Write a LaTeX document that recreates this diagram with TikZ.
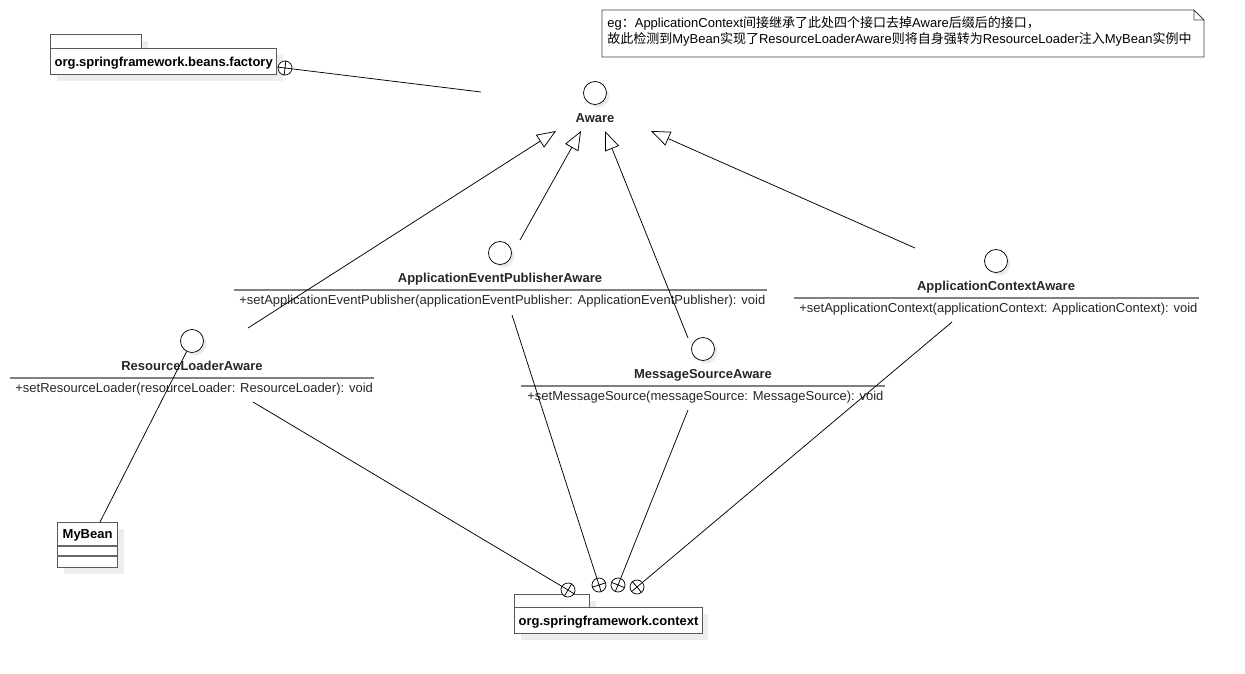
\documentclass[tikz,border=0pt]{standalone}
\usepackage{fontspec}
\setmainfont{Liberation Sans}
\newfontfamily\cjk{Noto Sans CJK SC}
\newcommand\zh[1]{{\cjk #1}}
\usetikzlibrary{positioning,arrows.meta,shadows}

\tikzset{
  iface/.style={circle,draw,fill=white,minimum size=23pt,inner sep=0pt,
    drop shadow={shadow xshift=3pt,shadow yshift=-3pt,fill=black!8,opacity=1}},
  ilabel/.style={font=\fontsize{13}{15}\selectfont\bfseries,text=black!85,inner sep=0pt},
  method/.style={anchor=base west,inner sep=0pt,text=black!85},
  sepline/.style={draw=black!50,line width=1.5pt},
  realize/.style={-{Triangle[open,length=19pt,width=15pt]}},
  pkgbox/.style={draw=black!65,line width=1.2pt,fill=white,anchor=north west,
    drop shadow={shadow xshift=6pt,shadow yshift=-6pt,fill=black!7,opacity=1}},
  pkgname/.style={pkgbox,minimum height=26pt,text depth=0pt,inner xsep=4pt,
    font=\fontsize{13}{15}\selectfont\bfseries},
  contain/.style={circle,draw,fill=white,minimum size=14pt,inner sep=0pt}
}

\begin{document}
\begin{tikzpicture}[x=1pt,y=-1pt,line width=0.75pt,font=\fontsize{13}{15}\selectfont]
  \useasboundingbox (0,0) rectangle (1245,673);

  % note
  \draw[black!75] (602,10) -- (1194,10) -- (1204,20) -- (1204,57) -- (602,57) -- cycle
    (1194,10) -- (1194,20) -- (1204,20);
  \node (note) [anchor=north west,align=left,inner sep=0pt,font=\fontsize{13}{16}\selectfont] at (607,16)
    {eg\zh{：}ApplicationContext\zh{间接继承了此处四个接口去掉}Aware\zh{后缀后的接口，}\\
     \zh{故此检测到}MyBean\zh{实现了}ResourceLoaderAware\zh{则将自身强转为}ResourceLoader\zh{注入}MyBean\zh{实例中}};

  % packages
  \node (bfTab) [pkgbox,minimum width=91pt,minimum height=14pt,inner sep=0pt] at (50,34) {};
  \node (bf) [pkgname] at (50,48) {org.springframework.beans.factory};
  \node (ctxTab) [pkgbox,minimum width=75pt,minimum height=14pt,inner sep=0pt] at (514,594) {};
  \node (ctx) [pkgname] at (514,607) {org.springframework.context};

  % interfaces
  \node (awareC) [iface] at (595,93) {};
  \node (aware) [ilabel,below=8pt of awareC] {Aware};

  \node (aepaC) [iface] at (500,253) {};
  \node (aepa) [ilabel,below=8pt of aepaC] {ApplicationEventPublisherAware};
  \draw[sepline] (234,290) -- (767,290);
  \node (aepaM) [method] at (239,304) {+setApplicationEventPublisher(applicationEventPublisher: ApplicationEventPublisher): void};

  \node (rlaC) [iface] at (192,341) {};
  \node (rla) [ilabel,below=8pt of rlaC] {ResourceLoaderAware};
  \draw[sepline] (10,378) -- (374,378);
  \node (rlaM) [method] at (15,392) {+setResourceLoader(resourceLoader: ResourceLoader): void};

  \node (msaC) [iface] at (703,349) {};
  \node (msa) [ilabel,below=8pt of msaC] {MessageSourceAware};
  \draw[sepline] (521,386) -- (885,386);
  \node (msaM) [method] at (527,400) {+setMessageSource(messageSource: MessageSource): void};

  \node (acaC) [iface] at (996,261) {};
  \node (aca) [ilabel,below=8pt of acaC] {ApplicationContextAware};
  \draw[sepline] (794,298) -- (1199,298);
  \node (acaM) [method] at (799,312) {+setApplicationContext(applicationContext: ApplicationContext): void};

  % class
  \node (bean) [pkgbox,minimum width=60pt,minimum height=45pt,inner sep=0pt] at (57,522) {};
  \node (beanName) [ilabel,text=black,below=7pt of bean.north] {MyBean};
  \draw[black!60,line width=1.2pt] (57,546) -- (117,546) (57,556) -- (117,556);

  % free ends
  \coordinate (rlaUp) at (248,328);  \coordinate (tipR) at (556,131);
  \coordinate (aepaUp) at (520,240); \coordinate (tipE) at (581,131);
  \coordinate (msaUp) at (688,338);  \coordinate (tipM) at (605,131);
  \coordinate (acaUp) at (915,248);  \coordinate (tipC) at (651,131);
  \coordinate (rlaDn) at (253,402);
  \coordinate (aepaDn) at (512,315);
  \coordinate (msaDn) at (688,410);
  \coordinate (acaDn) at (952,322);
  \coordinate (bfEnd) at (481,92);
  \coordinate (beanTop) at (100,522);

  % containment
  \node (bfC) [contain,rotate=-7] at (285,68) {};
  \node (c1) [contain,rotate=-31] at (568,590) {};
  \node (c2) [contain,rotate=-72] at (599,585) {};
  \node (c3) [contain,rotate=-22] at (618,585) {};
  \node (c4) [contain,rotate=40] at (637,587) {};
  \foreach \c in {bfC,c1,c2,c3,c4}
    \draw (\c.north) -- (\c.south) (\c.east) -- (\c.west);

  \path[realize] (rlaUp) edge (tipR)
    (aepaUp) edge (tipE)
    (msaUp) edge (tipM)
    (acaUp) edge (tipC);
  \path (bfEnd) edge (bfC)
    (rlaDn) edge (c1)
    (aepaDn) edge (c2)
    (msaDn) edge (c3)
    (acaDn) edge (c4)
    (beanTop) edge (rlaC);
\end{tikzpicture}
\end{document}
